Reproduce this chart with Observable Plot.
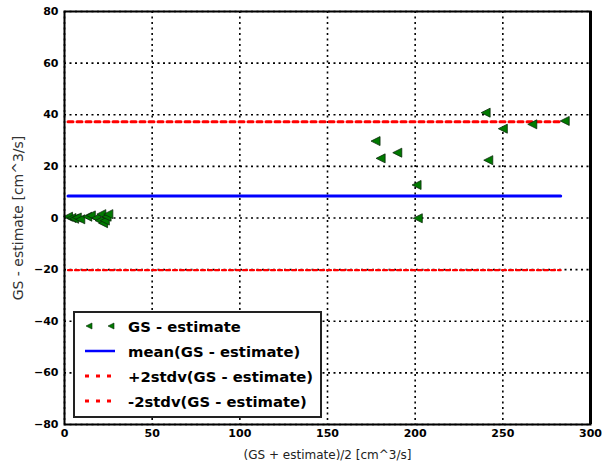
<!DOCTYPE html>
<html>
<head>
<meta charset="utf-8">
<script src="https://cdn.jsdelivr.net/npm/d3@7"></script>
<script src="https://cdn.jsdelivr.net/npm/@observablehq/plot@0.6"></script>
<style>
  html, body { margin: 0; padding: 0; background: #fff; }
  #wrap { position: relative; width: 612px; height: 468px; font-family: "DejaVu Sans", sans-serif; }
  #legend { position: absolute; left: 73px; top: 311px; width: 245px; height: 103px;
    border: 2px solid #222; background: #fff; box-sizing: content-box; }
  .row { position: absolute; left: 0; height: 24px; display: flex; align-items: center; }
  .row span { font-weight: bold; font-size: 14.8px; color: #000; position: absolute; left: 53px; white-space: nowrap; }
  .row svg { position: absolute; left: 8px; }
</style>
</head>
<body>
<div id="wrap"></div>
<script>
// Scatter data: mean of (GS, estimate) vs difference
const meanValues = [2, 4, 5.5, 7, 9, 13, 15, 18, 20, 21, 22, 23, 24, 25,
  177.4, 180.3, 189.8, 200.8, 201.5, 240.2, 241.7, 250, 266.8, 285.3];
const diffValues = [0.5, 0, -0.3, 0.2, -0.5, 0.5, 1, 0, -1, 1.5, -2, -1, 0.5, 1.5,
  29.8, 23.1, 25.3, 12.8, -0.1, 40.8, 22.4, 34.6, 36.3, 37.6];
// Summary statistics
const meanDiff = 8.55;
const plus2std = 37.3;
const minus2std = -20.2;
const lineExtent = [2, 283];
// Axis ticks
const xTicks = [0, 50, 100, 150, 200, 250, 300];
const yTicks = [-80, -60, -40, -20, 0, 20, 40, 60, 80];

const points = meanValues.map((m, i) => ({m, d: diffValues[i]}));
const hline = (v) => lineExtent.map(x => ({x, y: v}));

const leftTriangle = {
  draw(ctx, size) {
    const h = Math.sqrt(size / Math.PI);
    ctx.moveTo(-h, 0);
    ctx.lineTo(h, -h);
    ctx.lineTo(h, h);
    ctx.closePath();
  }
};

const chart = Plot.plot({
  width: 612,
  height: 468,
  marginLeft: 64,
  marginRight: 22,
  marginTop: 11,
  marginBottom: 44,
  style: {fontFamily: "DejaVu Sans, sans-serif", fontSize: "11px", color: "#000", background: "#fff"},
  x: {domain: [0, 300]},
  y: {domain: [-80, 80]},
  marks: [
    Plot.gridX(xTicks, {stroke: "#000", strokeOpacity: 1, strokeWidth: 1.6, strokeDasharray: "2,3.5"}),
    Plot.gridY(yTicks, {stroke: "#000", strokeOpacity: 1, strokeWidth: 1.6, strokeDasharray: "2,3.5"}),
    Plot.line(hline(meanDiff), {x: "x", y: "y", stroke: "#0000ff", strokeWidth: 3}),
    Plot.line(hline(plus2std), {x: "x", y: "y", stroke: "#ff0000", strokeWidth: 3, strokeDasharray: "5,4"}),
    Plot.line(hline(minus2std), {x: "x", y: "y", stroke: "#ff0000", strokeWidth: 2.2, strokeDasharray: "4,3"}),
    Plot.dot(points, {x: "m", y: "d", symbol: leftTriangle, r: 4.5, fill: "#007a00", stroke: "#0b2a0b", strokeWidth: 0.8}),
    Plot.frame({stroke: "#000", strokeWidth: 2}),
    Plot.ruleX([300], {stroke: "#000", strokeWidth: 3}),
    Plot.axisX(xTicks, {tickSize: 0, tickPadding: 5, fontWeight: "bold", fontSize: 11,
      label: "(GS + estimate)/2 [cm^3/s]", labelAnchor: "center", labelArrow: "none", labelOffset: 34}),
    Plot.axisY(yTicks, {tickSize: 0, tickPadding: 6, fontWeight: "bold", fontSize: 11,
      label: "GS - estimate [cm^3/s]", labelAnchor: "center", labelArrow: "none", labelOffset: 51})
  ]
});
chart.querySelectorAll("[aria-label='x-axis label'] text").forEach(t => {
  t.setAttribute("font-size", "12");
  t.setAttribute("font-weight", "normal");
  t.setAttribute("fill", "#222");
});
chart.querySelectorAll("[aria-label='y-axis label'] text").forEach(t => {
  t.setAttribute("font-size", "14");
  t.setAttribute("font-weight", "normal");
  t.setAttribute("fill", "#333");
});
const wrap = document.getElementById("wrap");
wrap.appendChild(chart);

// Legend
const legendItems = [
  {label: "GS - estimate", kind: "marker"},
  {label: "mean(GS - estimate)", kind: "solid"},
  {label: "+2stdv(GS - estimate)", kind: "dots"},
  {label: "-2stdv(GS - estimate)", kind: "dots"}
];
const legend = document.createElement("div");
legend.id = "legend";
legendItems.forEach((it, i) => {
  const row = document.createElement("div");
  row.className = "row";
  row.style.top = (1 + i * 25) + "px";
  let sw = "";
  if (it.kind === "marker") {
    sw = `<path d="M3,6 L9,3 L9,9 Z" fill="#007a00" stroke="#0b2a0b" stroke-width="0.6"/><path d="M25,6 L31,3 L31,9 Z" fill="#007a00" stroke="#0b2a0b" stroke-width="0.6"/>`;
  } else if (it.kind === "solid") {
    sw = `<line x1="2" y1="6" x2="32" y2="6" stroke="#0000ff" stroke-width="2.5"/>`;
  } else {
    sw = `<line x1="2" y1="6" x2="32" y2="6" stroke="#ff0000" stroke-width="3" stroke-dasharray="4,7"/>`;
  }
  row.innerHTML = `<svg width="36" height="12" style="top:6px">${sw}</svg><span>${it.label}</span>`;
  legend.appendChild(row);
});
wrap.appendChild(legend);
</script>
</body>
</html>
